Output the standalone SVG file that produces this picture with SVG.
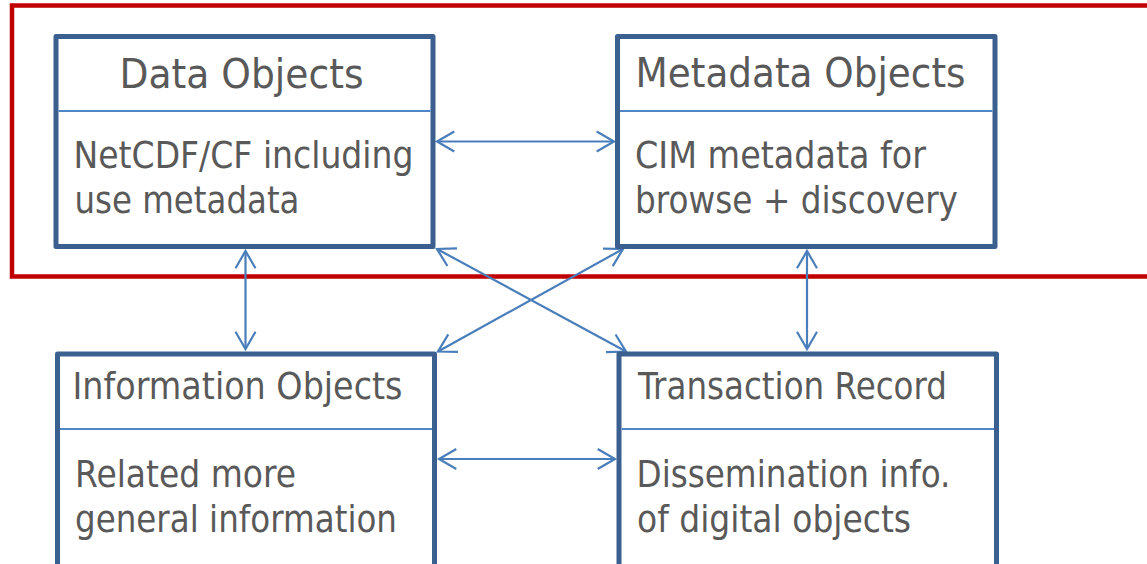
<svg xmlns="http://www.w3.org/2000/svg" width="1147" height="564" viewBox="0 0 1147 564">
  <style>
    .frame { fill: none; stroke: #c00000; stroke-width: 4.5; }
    .box { fill: #ffffff; stroke: #3b608f; stroke-width: 5; stroke-linejoin: round; }
    .divider { stroke: #4f86c6; stroke-width: 2; }
    .conn { fill: none; stroke: #4a7ebb; stroke-width: 2.2; marker-start: url(#arrow); marker-end: url(#arrow); }
    text { font-family: "DejaVu Sans", "Liberation Sans", sans-serif; fill: #595959; }
    .head { font-size: 41px; }
    .sub { font-size: 36.6px; }
  </style>
  <defs>
    <marker id="arrow" markerUnits="userSpaceOnUse" viewBox="-20 -12 22 24" refX="0" refY="0" markerWidth="22" markerHeight="24" orient="auto-start-reverse" overflow="visible">
      <path d="M-17.3,-10 L0,0 L-17.3,10" fill="none" stroke="#4a7ebb" stroke-width="2.2" stroke-linejoin="miter"/>
    </marker>
  </defs>

  <!-- highlight frame around the upper pair, open to the right -->
  <rect class="frame" x="12" y="5.5" width="1150" height="271"/>

  <!-- connectors -->
  <g id="connectors">
    <line class="conn" x1="437" y1="141.5" x2="614" y2="141.5"/>
    <line class="conn" x1="439" y1="459" x2="615" y2="459"/>
    <line class="conn" x1="245.5" y1="251" x2="245.5" y2="349"/>
    <line class="conn" x1="807" y1="251" x2="807" y2="349"/>
    <line class="conn" x1="437" y1="249" x2="626" y2="351.5"/>
    <line class="conn" x1="623" y1="249" x2="438" y2="351.5"/>
  </g>

  <g id="data-objects">
    <rect class="box" x="56" y="36.5" width="377" height="210"/>
    <line class="divider" x1="58.5" y1="111" x2="430.5" y2="111"/>
    <text class="head" x="119.5" y="88.3" textLength="244" lengthAdjust="spacingAndGlyphs">Data Objects</text>
    <text class="sub" x="73.5" y="168.3" textLength="340" lengthAdjust="spacingAndGlyphs">NetCDF/CF including</text>
    <text class="sub" x="74.5" y="213.3" textLength="225" lengthAdjust="spacingAndGlyphs">use metadata</text>
  </g>

  <g id="metadata-objects">
    <rect class="box" x="617.5" y="36.5" width="377.5" height="210"/>
    <line class="divider" x1="620" y1="111" x2="992.5" y2="111"/>
    <text class="head" x="635.5" y="87.3" textLength="330" lengthAdjust="spacingAndGlyphs">Metadata Objects</text>
    <text class="sub" x="635" y="168.3" textLength="291" lengthAdjust="spacingAndGlyphs">CIM metadata for</text>
    <text class="sub" x="635" y="212.7" textLength="323" lengthAdjust="spacingAndGlyphs">browse + discovery</text>
  </g>

  <g id="information-objects">
    <rect class="box" x="57.5" y="354" width="377" height="260"/>
    <line class="divider" x1="60" y1="429" x2="432" y2="429"/>
    <text class="sub" x="72.5" y="399.3" textLength="330" lengthAdjust="spacingAndGlyphs">Information Objects</text>
    <text class="sub" x="75" y="486.7" textLength="221" lengthAdjust="spacingAndGlyphs">Related more</text>
    <text class="sub" x="75" y="531.7" textLength="322" lengthAdjust="spacingAndGlyphs">general information</text>
  </g>

  <g id="transaction-record">
    <rect class="box" x="619" y="354" width="377.5" height="260"/>
    <line class="divider" x1="621.5" y1="429" x2="994" y2="429"/>
    <text class="sub" x="638" y="399.3" textLength="309" lengthAdjust="spacingAndGlyphs">Transaction Record</text>
    <text class="sub" x="636.5" y="486.7" textLength="314" lengthAdjust="spacingAndGlyphs">Dissemination info.</text>
    <text class="sub" x="637" y="531.7" textLength="274" lengthAdjust="spacingAndGlyphs">of digital objects</text>
  </g>
</svg>
